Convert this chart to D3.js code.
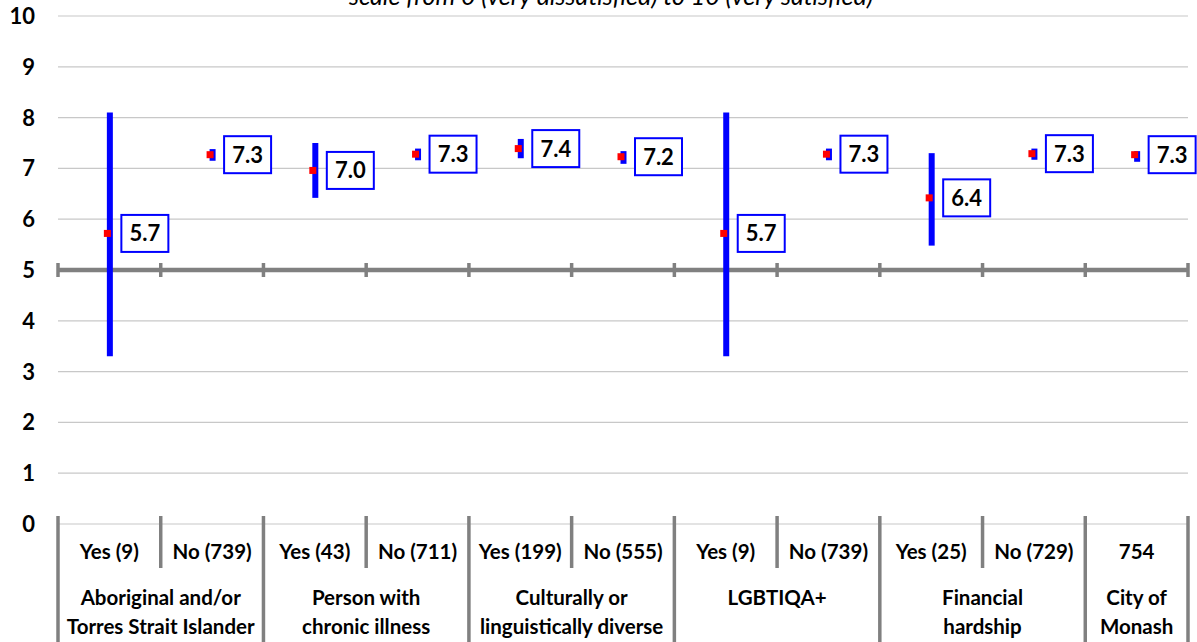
<!DOCTYPE html>
<html>
<head>
<meta charset="utf-8">
<script src="https://cdn.jsdelivr.net/npm/d3@7/dist/d3.min.js"></script>
<style>
  html, body { margin: 0; padding: 0; background: #fff; }
  svg { display: block; }
  text { font-family: Lato, "Open Sans", "Liberation Sans", sans-serif; }
</style>
</head>
<body>
<svg id="chart" width="1197" height="642"></svg>
<script>
// ---- data ----
const categories = ["Yes (9)", "No (739)", "Yes (43)", "No (711)", "Yes (199)", "No (555)",
                    "Yes (9)", "No (739)", "Yes (25)", "No (729)", "754"];
const means  = [5.72, 7.27, 6.96, 7.28, 7.39, 7.23, 5.72, 7.28, 6.42, 7.29, 7.27];
const lower  = [3.30, 7.15, 6.42, 7.16, 7.20, 7.09, 3.30, 7.16, 5.48, 7.17, 7.13];
const upper  = [8.10, 7.38, 7.50, 7.39, 7.58, 7.34, 8.10, 7.39, 7.30, 7.39, 7.34];
const valueLabels = ["5.7", "7.3", "7.0", "7.3", "7.4", "7.2", "5.7", "7.3", "6.4", "7.3", "7.3"];
const groupLabels = [["Aboriginal and/or", "Torres Strait Islander"], ["Person with", "chronic illness"],
                     ["Culturally or", "linguistically diverse"], ["LGBTIQA+"], ["Financial", "hardship"],
                     ["City of", "Monash"]];
const groupSizes = [2, 2, 2, 2, 2, 1];
const yTicks = [0, 1, 2, 3, 4, 5, 6, 7, 8, 9, 10];
const subtitle = "scale from 0 (very dissatisfied) to 10 (very satisfied)";

(function () {
// ---- layout ----
const svg = d3.select("#chart");
const pL = 58, pR = 1188, pT = 16, pB = 524;
const x = d3.scaleBand().domain(d3.range(categories.length)).range([pL, pR]).padding(0);
const y = d3.scaleLinear().domain([0, 10]).range([pB, pT]);
const bw = x.bandwidth();

// subtitle (cut at top, as in the reference)
svg.append("text").attr("x", 611).attr("y", 5).attr("text-anchor", "middle")
  .attr("font-style", "italic").attr("font-size", 25).attr("fill", "#000").text(subtitle);

// gridlines
svg.append("g").selectAll("line").data(yTicks.filter(d => d !== 5)).join("line")
  .attr("x1", pL).attr("x2", pR).attr("y1", d => y(d)).attr("y2", d => y(d))
  .attr("stroke", "#c8c8c8").attr("stroke-width", 1.2);

// y axis labels
svg.append("g").selectAll("text").data(yTicks).join("text")
  .attr("x", 35).attr("y", d => y(d)).attr("dy", "0.36em").attr("text-anchor", "end")
  .attr("font-weight", "bold").attr("font-size", 22).attr("fill", "#000").text(d => d);

// horizontal axis at 5 with crossing ticks
const boundaries = d3.range(categories.length + 1).map(i => i < categories.length ? x(i) : pR);
svg.append("line").attr("x1", pL - 1).attr("x2", pR).attr("y1", y(5)).attr("y2", y(5))
  .attr("stroke", "#808080").attr("stroke-width", 4.5);
svg.append("g").selectAll("line").data(boundaries).join("line")
  .attr("x1", d => d).attr("x2", d => d).attr("y1", y(5) - 7).attr("y2", y(5) + 7)
  .attr("stroke", "#808080").attr("stroke-width", 3.5);

// category separators at bottom
const groupStarts = [];
let acc = 0;
groupSizes.forEach(s => { groupStarts.push(acc); acc += s; });
const groupBoundaryIdx = new Set([...groupStarts, categories.length]);
svg.append("g").selectAll("line").data(d3.range(categories.length + 1)).join("line")
  .attr("x1", i => boundaries[i]).attr("x2", i => boundaries[i])
  .attr("y1", 516).attr("y2", i => groupBoundaryIdx.has(i) ? 642 : 568)
  .attr("stroke", "#808080").attr("stroke-width", 3.5);

// category labels
svg.append("g").selectAll("text").data(categories).join("text")
  .attr("x", (d, i) => x(i) + bw / 2).attr("y", 552).attr("dy", "0.36em")
  .attr("text-anchor", "middle").attr("font-weight", "bold").attr("font-size", 20.5)
  .attr("fill", "#000").text(d => d);

// group labels
groupLabels.forEach((lines, gi) => {
  const i0 = groupStarts[gi], i1 = i0 + groupSizes[gi];
  const cx = (boundaries[i0] + boundaries[i1]) / 2;
  lines.forEach((t, li) => {
    svg.append("text").attr("x", cx).attr("y", 598 + li * 29).attr("dy", "0.36em")
      .attr("text-anchor", "middle").attr("font-weight", "bold").attr("font-size", 20.5)
      .attr("fill", "#000").text(t);
  });
});

// error bars
svg.append("g").selectAll("line").data(categories).join("line")
  .attr("x1", (d, i) => x(i) + bw / 2 + 0.5).attr("x2", (d, i) => x(i) + bw / 2 + 0.5)
  .attr("y1", (d, i) => y(upper[i])).attr("y2", (d, i) => y(lower[i]))
  .attr("stroke", "#0000ff").attr("stroke-width", 6);

// mean markers
svg.append("g").selectAll("rect").data(categories).join("rect")
  .attr("x", (d, i) => x(i) + bw / 2 - 5.5).attr("y", (d, i) => y(means[i]) - 3.5)
  .attr("width", 7).attr("height", 7).attr("fill", "#ff0000");

// value label boxes
const lab = svg.append("g").selectAll("g").data(categories).join("g")
  .attr("transform", (d, i) => `translate(${x(i) + bw / 2 + 12},${y(means[i])})`);
lab.append("rect").attr("x", 0).attr("y", -18.5).attr("width", 47).attr("height", 37)
  .attr("fill", "#fff").attr("stroke", "#0000ff").attr("stroke-width", 2);
lab.append("text").attr("x", 23.5).attr("y", 0).attr("dy", "0.36em").attr("text-anchor", "middle")
  .attr("font-weight", "bold").attr("font-size", 22).attr("fill", "#000")
  .text((d, i) => valueLabels[i]);
})();
</script>
</body>
</html>
